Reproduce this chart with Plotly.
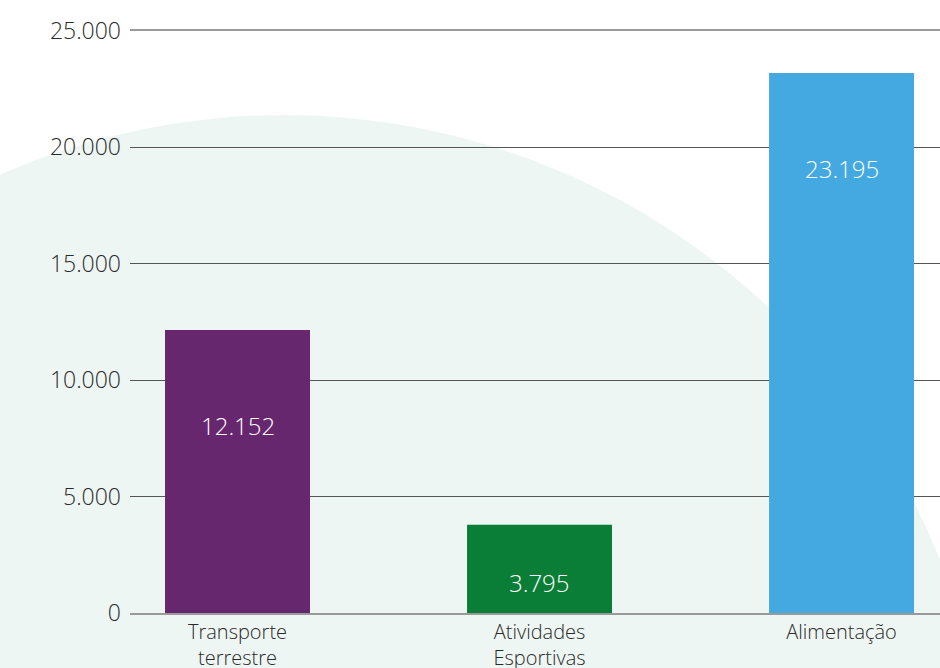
import plotly.graph_objects as go

categories = ["Transporte<br>terrestre", "Atividades<br>Esportivas", "Alimentação"]
values = [12152, 3795, 23195]
value_labels = ["12.152", "3.795", "23.195"]
colors = ["#66276E", "#0A7D37", "#43A9E0"]
tick_vals = [0, 5000, 10000, 15000, 20000, 25000]
tick_text = ["0", "5.000", "10.000", "15.000", "20.000", "25.000"]

W, H = 940, 668
ML, MR, MT, MB = 130, 0, 31, 55
plot_h = H - MT - MB
ymax = 25000
FONT = "Open Sans"

fig = go.Figure()
fig.add_trace(go.Bar(x=categories, y=values, marker=dict(color=colors, line=dict(width=0)),
                     width=0.48, hoverinfo="skip"))

# value labels inside bars
for c, v, t in zip(categories, values, value_labels):
    hpx = v * plot_h / ymax
    fig.add_annotation(x=c, y=v, xref="x", yref="y", text=t, showarrow=False,
                       yanchor="middle", yshift=-min(95, 0.65 * hpx),
                       font=dict(family=FONT, size=24, color="white", weight=300))

# background circle (paper coords from pixels)
def px_to_paper_x(px):
    return (px - ML) / (W - ML - MR)

def px_to_paper_y(py):
    return (H - MB - py) / plot_h

cx, cy, r = 284, 821, 706
fig.add_shape(type="circle", xref="paper", yref="paper", layer="below",
              x0=px_to_paper_x(cx - r), x1=px_to_paper_x(cx + r),
              y0=px_to_paper_y(cy + r), y1=px_to_paper_y(cy - r),
              fillcolor="#EEF6F3", line=dict(width=0))

fig.update_layout(
    width=W, height=H,
    margin=dict(l=ML, r=MR, t=MT, b=MB, autoexpand=False),
    paper_bgcolor="white", plot_bgcolor="rgba(0,0,0,0)",
    showlegend=False,
    font=dict(family=FONT, color="#2a2a2a", weight=300),
    xaxis=dict(range=[-0.356, 2.326], showgrid=False, showline=True, linecolor="#9A9A9A",
               linewidth=2, mirror=True, ticks="", automargin=False,
               tickfont=dict(family=FONT, size=20, color="#2a2a2a", weight=300),
               fixedrange=True),
    yaxis=dict(range=[0, ymax], tickvals=tick_vals, ticktext=tick_text, showgrid=True,
               gridcolor="#555555", gridwidth=1, zeroline=False, showline=False,
               automargin=False,
               tickfont=dict(family=FONT, size=23, color="#2a2a2a", weight=300),
               ticklabelstandoff=8, fixedrange=True),
)

fig.write_html("out.html", config={"displayModeBar": False},
               post_script="document.body.style.margin='0';document.body.style.overflow='hidden';")
